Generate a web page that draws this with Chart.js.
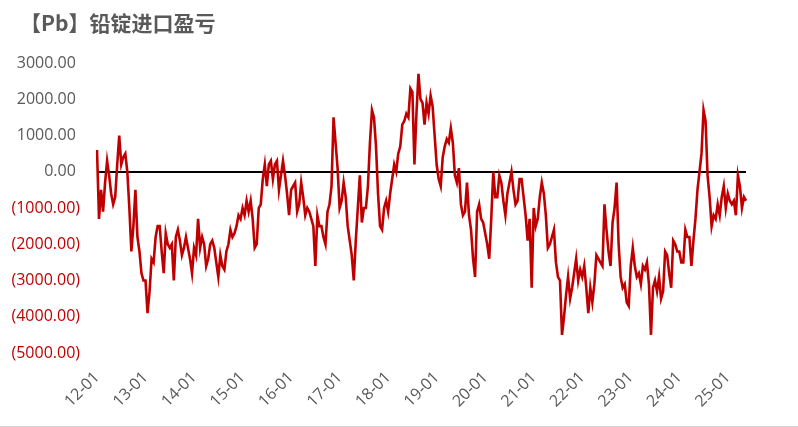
<!DOCTYPE html>
<html>
<head>
<meta charset="utf-8">
<script src="https://cdn.jsdelivr.net/npm/chart.js@4.4.1/dist/chart.umd.min.js"></script>
<style>
html,body{margin:0;padding:0;background:#fff;}
#wrap{position:relative;width:798px;height:427px;overflow:hidden;}
canvas{display:block;}
#frame{position:absolute;left:0;top:426px;width:798px;height:1px;background:#d4d4d4;}
</style>
</head>
<body>
<div id="wrap"><canvas id="c" width="798" height="427"></canvas><div id="frame"></div></div>
<script>
// ---- data (semi-monthly readings, 2012-01 .. 2025-05) ----
const titleText = '【Pb】铅锭进口盈亏';
const tickLabels = ['12-01','13-01','14-01','15-01','16-01','17-01','18-01','19-01','20-01','21-01','22-01','23-01','24-01','25-01'];
const yTicks = [3000, 2000, 1000, 0, -1000, -2000, -3000, -4000, -5000];

const v2012 = [600,-1300,-500,-1100,-300,300,-100,-600,-900,-700,200,1000,200,400,500,0,-1000,-2200,-1500,-500,-1800,-2200,-2800,-3000];
const v2013 = [-3000,-3900,-3300,-2400,-2500,-1800,-1500,-1500,-2200,-2800,-1700,-2000,-2100,-2000,-3000,-1800,-1600,-1900,-2300,-2100,-1800,-2100,-2400,-2800];
const v2014 = [-2100,-2300,-1300,-2100,-1800,-2000,-2600,-2400,-2000,-1900,-2100,-2500,-2900,-2300,-2600,-2700,-2200,-2000,-1600,-1800,-1700,-1500,-1200,-1300];
const v2015 = [-1000,-1200,-800,-1100,-800,-1300,-2100,-2000,-1000,-900,-200,200,-400,200,300,-200,200,300,-500,-100,300,-100,-600,-1200];
const v2016 = [-500,-400,-300,-1100,-900,-300,-700,-1200,-1000,-1100,-1300,-1500,-2600,-1200,-1500,-1500,-1800,-2000,-1100,-900,-400,1500,800,100];
const v2017 = [-1000,-800,-300,-700,-1500,-1900,-2300,-3000,-1900,-1000,-100,-1400,-1000,-1000,-400,800,1700,1500,700,-600,-1500,-1600,-1000,-800];
const v2018 = [-1100,-600,-200,200,0,500,700,1300,1400,1600,1500,2300,2200,200,1600,2700,2000,1900,1300,1900,1600,2100,1800,1000];
const v2019 = [200,-200,-400,400,700,900,800,1200,800,-100,-300,100,-900,-1200,-1100,-300,-1200,-1600,-2400,-2900,-1100,-900,-1300,-1400];
const v2020 = [-1700,-2000,-2400,-1300,0,-700,-700,-100,-300,-800,-1200,-600,-300,0,-500,-900,-800,-200,-200,-700,-1200,-1900,-1300,-3200];
const v2021 = [-1000,-1500,-1300,-700,-300,-600,-1200,-2100,-2000,-1800,-1600,-2500,-2900,-3000,-4500,-4000,-3400,-2900,-3500,-3200,-2800,-2400,-3000,-2700];
const v2022 = [-2900,-2600,-3200,-3900,-3200,-3600,-3100,-2300,-2400,-2500,-2600,-900,-1600,-2200,-2600,-1400,-1000,-300,-2000,-2900,-3200,-3100,-3600,-3700];
const v2023 = [-2600,-2100,-2600,-2900,-2800,-3100,-2600,-2700,-2500,-3100,-4500,-3200,-3000,-3300,-2900,-3500,-3300,-2200,-2300,-2800,-3200,-1900,-2000,-2200];
const v2024 = [-2200,-2500,-2500,-1600,-1800,-1800,-2600,-1900,-1300,-500,0,500,1700,1400,-100,-700,-1500,-1200,-1300,-900,-1200,-700,-400,-1000];
const v2025 = [-600,-800,-900,-800,-1200,-100,-400,-1000,-700,-800];

const values = [].concat(v2012,v2013,v2014,v2015,v2016,v2017,v2018,v2019,v2020,v2021,v2022,v2023,v2024,v2025);

// categories: two per month
const categories = [];
for (let y = 2012; y <= 2025; y++) {
  for (let m = 1; m <= 12; m++) {
    if (y === 2025 && m > 5) break;
    const mm = String(m).padStart(2, '0');
    const yy = String(y).slice(2);
    categories.push(yy + '-' + mm + '-01');
    categories.push(yy + '-' + mm + '-16');
  }
}

function fmt(v) {
  const s = Math.abs(v).toFixed(2);
  return v < 0 ? '(' + s + ')' : s + ' ';
}

const titlePlugin = {
  id: 'leftTitle',
  afterDraw(chart) {
    const ctx = chart.ctx;
    ctx.save();
    ctx.font = 'bold 21px "Noto Sans CJK SC", "Noto Sans", sans-serif';
    ctx.fillStyle = '#595959';
    ctx.textAlign = 'left';
    ctx.textBaseline = 'middle';
    ctx.fillText(titleText, 20, 23);
    ctx.restore();
  }
};

new Chart(document.getElementById('c'), {
  type: 'line',
  data: {
    labels: categories,
    datasets: [{
      data: values,
      borderColor: '#C00000',
      borderWidth: 2.6,
      pointRadius: 0,
      tension: 0,
      fill: false
    }]
  },
  options: {
    responsive: false,
    animation: false,
    devicePixelRatio: 1,
    layout: { padding: { left: 0, right: 52, top: 63, bottom: 0 } },
    plugins: { legend: { display: false }, tooltip: { enabled: false }, title: { display: false } },
    scales: {
      x: {
        type: 'category',
        offset: false,
        grid: { display: false, drawTicks: false },
        border: { display: false },
        afterFit(scale) { scale.height = 74; },
        ticks: {
          autoSkip: false,
          minRotation: 45,
          maxRotation: 45,
          padding: 15,
          color: '#595959',
          font: { family: '"Open Sans", sans-serif', size: 16 },
          callback(value, index) {
            const lab = categories[index];
            if (lab && lab.endsWith('-01-01')) {
              const s = lab.slice(0, 5);
              return tickLabels.includes(s) ? s : null;
            }
            return null;
          }
        }
      },
      y: {
        min: -5000,
        max: 3000,
        afterFit(scale) { scale.width = 97; },
        afterBuildTicks(scale) { scale.ticks = yTicks.map(v => ({ value: v })); },
        border: { display: false },
        grid: {
          drawTicks: false,
          lineWidth: 2,
          color: (c) => (c.tick && c.tick.value === 0) ? '#000000' : 'rgba(0,0,0,0)'
        },
        ticks: {
          padding: 17,
          color: (c) => (c.tick && c.tick.value < 0) ? '#C00000' : '#595959',
          font: { family: '"Open Sans", sans-serif', size: 16 },
          callback: (v) => fmt(v)
        }
      }
    }
  },
  plugins: [titlePlugin]
});
</script>
</body>
</html>
